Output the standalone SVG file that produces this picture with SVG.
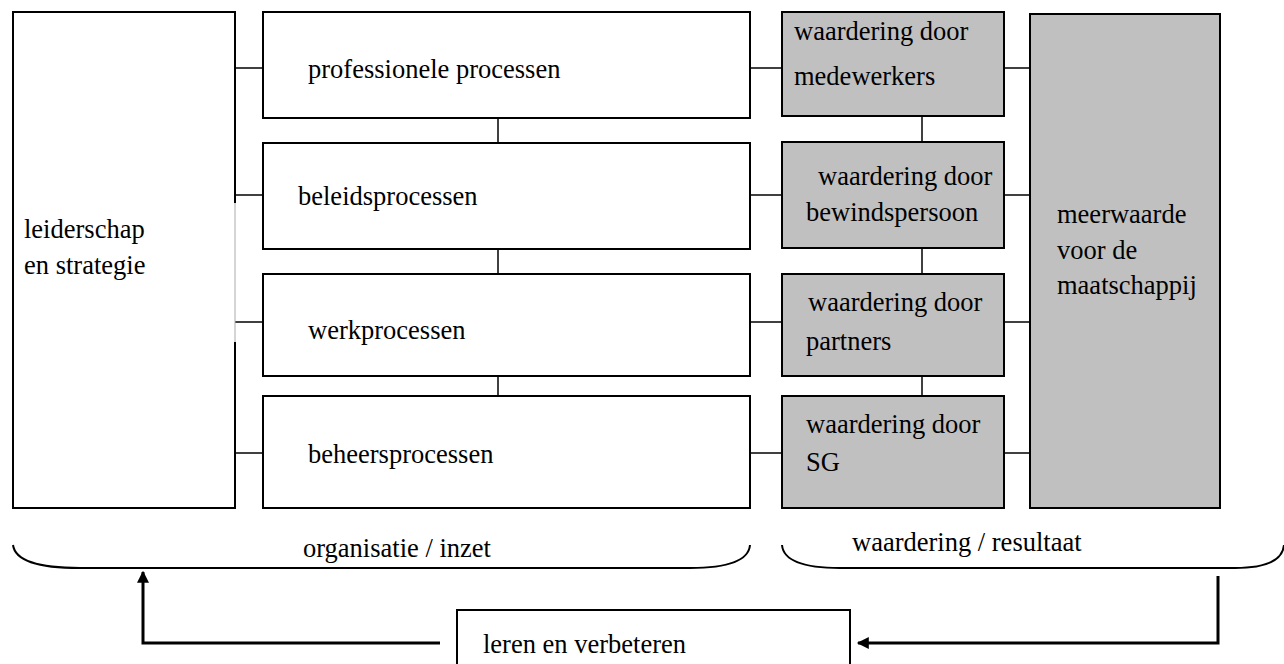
<svg xmlns="http://www.w3.org/2000/svg" width="1284" height="664" viewBox="0 0 1284 664">
<defs>
<style>
.box{fill:#fff;stroke:#000;stroke-width:2}
.grey{fill:#c0c0c0;stroke:#000;stroke-width:2}
.ln{stroke:#000;stroke-width:1.5;fill:none}
.brace{stroke:#000;stroke-width:2;fill:none}
.arr{stroke:#000;stroke-width:3;fill:none}
</style>
<marker id="ah" viewBox="0 0 10 10" refX="9" refY="5" markerWidth="4.5" markerHeight="4" orient="auto" markerUnits="strokeWidth">
<path d="M0,0 L10,5 L0,10 z" fill="#000"/>
</marker>
</defs>
<rect width="1284" height="664" fill="#fff"/>
<g id="connectors">
<line class="ln" x1="235" y1="68" x2="263" y2="68"/>
<line class="ln" x1="235" y1="195" x2="263" y2="195"/>
<line class="ln" x1="235" y1="322" x2="263" y2="322"/>
<line class="ln" x1="235" y1="453" x2="263" y2="453"/>
<line class="ln" x1="498" y1="118" x2="498" y2="143"/>
<line class="ln" x1="498" y1="249" x2="498" y2="274"/>
<line class="ln" x1="498" y1="376" x2="498" y2="396"/>
<line class="ln" x1="750" y1="68" x2="782" y2="68"/>
<line class="ln" x1="750" y1="195" x2="782" y2="195"/>
<line class="ln" x1="750" y1="322" x2="782" y2="322"/>
<line class="ln" x1="750" y1="453" x2="782" y2="453"/>
<line class="ln" x1="922" y1="116" x2="922" y2="142"/>
<line class="ln" x1="922" y1="248" x2="922" y2="274"/>
<line class="ln" x1="922" y1="376" x2="922" y2="396"/>
<line class="ln" x1="1004" y1="68" x2="1030" y2="68"/>
<line class="ln" x1="1004" y1="195" x2="1030" y2="195"/>
<line class="ln" x1="1004" y1="322" x2="1030" y2="322"/>
<line class="ln" x1="1004" y1="453" x2="1030" y2="453"/>
<path class="brace" d="M13,545 Q16,568 80,568 L690,568 Q748,568 750,545"/>
<path class="brace" d="M782,545 Q784,568 840,568 L1235,568 Q1282,568 1284,545"/>
<path class="arr" d="M440,643 L143,643 L143,572" marker-end="url(#ah)"/>
<path class="arr" d="M1218,576 L1218,643 L858,643" marker-end="url(#ah)"/>
</g>
<g font-family="'Liberation Serif','Times New Roman',Times,serif" font-size="26.5" fill="#000">
<g id="leiderschap">
<path d="M235,203 L235,12 L13,12 L13,508 L235,508 L235,342" fill="#fff" stroke="#000" stroke-width="2"/>
<line x1="235" y1="203" x2="235" y2="342" stroke="#aaa" stroke-width="1"/>
<text x="24" y="238">leiderschap</text>
<text x="24" y="274">en strategie</text>
</g>
<g id="professionele"><rect class="box" x="263" y="12" width="487" height="106"/><text x="308" y="78">professionele processen</text></g>
<g id="beleid"><rect class="box" x="263" y="143" width="487" height="106"/><text x="298" y="205">beleidsprocessen</text></g>
<g id="werk"><rect class="box" x="263" y="274" width="487" height="102"/><text x="308" y="339">werkprocessen</text></g>
<g id="beheer"><rect class="box" x="263" y="396" width="487" height="112"/><text x="308" y="463">beheersprocessen</text></g>
<g id="w-medewerkers"><rect class="grey" x="782" y="12" width="222" height="104"/><text x="794" y="40">waardering door</text><text x="794" y="85">medewerkers</text></g>
<g id="w-bewindspersoon"><rect class="grey" x="782" y="142" width="222" height="106"/><text x="818" y="185">waardering door</text><text x="806" y="221">bewindspersoon</text></g>
<g id="w-partners"><rect class="grey" x="782" y="274" width="222" height="102"/><text x="808" y="311">waardering door</text><text x="806" y="350">partners</text></g>
<g id="w-sg"><rect class="grey" x="782" y="396" width="222" height="112"/><text x="806" y="433">waardering door</text><text x="806" y="471">SG</text></g>
<g id="meerwaarde"><rect class="grey" x="1030" y="14" width="190" height="494"/><text x="1057" y="223">meerwaarde</text><text x="1057" y="259">voor de</text><text x="1057" y="294">maatschappij</text></g>
<g id="labels"><text x="303" y="557">organisatie / inzet</text><text x="852" y="551">waardering / resultaat</text></g>
<g id="leren"><rect class="box" x="457" y="610" width="393" height="60"/><text x="483" y="653">leren en verbeteren</text></g>
</g>
</svg>
